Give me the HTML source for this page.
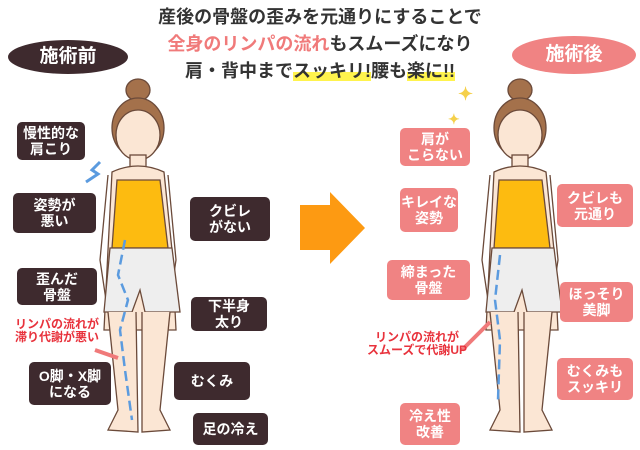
<!DOCTYPE html><html><head><meta charset="utf-8"><style>
body{margin:0;width:640px;height:450px;background:#fff;position:relative;overflow:hidden;font-family:"Liberation Sans","Noto Sans CJK JP",sans-serif;font-weight:bold}
.b{position:absolute;background:#3e2a2e;color:#fff;border-radius:5px;display:flex;align-items:center;justify-content:center;text-align:center;font-size:14px;line-height:16px}
.p{background:#f08383}
.t{position:absolute;left:0;width:640px;text-align:center;font-size:18px;color:#333;line-height:24px}
.r{position:absolute;color:#e8323c;font-size:12px;line-height:13px;text-align:center}
</style></head><body>
<div class="t" style="top:5px">産後の骨盤の歪みを元通りにすることで</div>
<div class="t" style="top:32px"><span style="color:#f07a7a">全身のリンパの流れ</span>もスムーズになり</div>
<div class="t" style="top:59px">肩・背中まで<span style="background:linear-gradient(transparent 55%,#fff34d 55%)">スッキリ!</span>腰も<span style="background:linear-gradient(transparent 55%,#fff34d 55%)">楽に!!</span></div>
<div class="b" style="left:8px;top:40px;width:120px;height:34px;border-radius:50%;font-size:19px">施術前</div>
<div class="b p" style="left:512px;top:36px;width:124px;height:38px;border-radius:50%;font-size:19px">施術後</div>
<svg width="640" height="450" style="position:absolute;left:0;top:0">
<g id="f" stroke="#6b4a3a" stroke-width="1.3">
<ellipse cx="138" cy="90" rx="12" ry="11" fill="#a4714b"/>
<ellipse cx="138" cy="128" rx="26" ry="30" fill="#a4714b"/>
<ellipse cx="138" cy="135" rx="22" ry="25" fill="#fbe6d4"/>
<rect x="130" y="155" width="16" height="16" fill="#fbe6d4"/>
<path d="M112 172 Q138 160 164 172 L172 250 L176 330 L104 330 L108 250Z" fill="#fbe6d4"/>
<path d="M108 175 L100 260 L106 300 M168 175 L176 260 L170 300" fill="none"/>
<path d="M117 180 L160 180 L168 248 L112 248Z" fill="#fdbb10"/>
<path d="M110 248 L172 248 L180 312 L145 312 L140 290 L132 312 L104 312Z" fill="#eeeeee"/>
<path d="M108 312 L118 410 L108 430 L138 432 L136 312 M170 312 L160 410 L170 430 L142 432 L142 312" fill="#fbe6d4"/>
</g>
<use href="#f" x="382" y="0"/>
<path d="M125 240 L118 275 L128 300 L120 330 L125 370 L132 420" stroke="#5b9bdf" stroke-width="2.5" stroke-dasharray="10 5" fill="none"/>
<path d="M500 255 L495 300 L500 340 L498 400" stroke="#5b9bdf" stroke-width="2.5" stroke-dasharray="10 5" fill="none"/>
<path d="M300 205 L330 205 L330 192 L365 228 L330 264 L330 250 L300 250Z" fill="#fd9a12"/>
<path d="M100 162 L92 170 L98 174 L86 182" stroke="#5b9bdf" stroke-width="3" fill="none"/>
<path d="M95 350 L118 358" stroke="#f07a7a" stroke-width="4"/>
<path d="M462 350 L490 322" stroke="#f07a7a" stroke-width="4"/>
<text x="458" y="100" font-size="18" fill="#f5d04a">✦</text><text x="448" y="124" font-size="14" fill="#f5d04a">✦</text>
</svg>
<div class="b" style="left:17px;top:122px;width:68px;height:38px">慢性的な<br>肩こり</div>
<div class="b" style="left:13px;top:193px;width:83px;height:40px">姿勢が<br>悪い</div>
<div class="b" style="left:190px;top:197px;width:80px;height:44px">クビレ<br>がない</div>
<div class="b" style="left:17px;top:268px;width:80px;height:37px">歪んだ<br>骨盤</div>
<div class="b" style="left:191px;top:297px;width:76px;height:34px">下半身<br>太り</div>
<div class="r" style="left:3px;top:318px;width:108px">リンパの流れが<br>滞り代謝が悪い</div>
<div class="b" style="left:29px;top:362px;width:82px;height:43px">O脚・X脚<br>になる</div>
<div class="b" style="left:174px;top:362px;width:76px;height:38px">むくみ</div>
<div class="b" style="left:193px;top:413px;width:75px;height:32px">足の冷え</div>
<div class="b p" style="left:400px;top:128px;width:70px;height:38px">肩が<br>こらない</div>
<div class="b p" style="left:400px;top:188px;width:58px;height:44px">キレイな<br>姿勢</div>
<div class="b p" style="left:557px;top:184px;width:76px;height:43px">クビレも<br>元通り</div>
<div class="b p" style="left:387px;top:260px;width:83px;height:40px">締まった<br>骨盤</div>
<div class="b p" style="left:560px;top:282px;width:73px;height:40px">ほっそり<br>美脚</div>
<div class="r" style="left:352px;top:331px;width:130px">リンパの流れが<br>スムーズで代謝UP</div>
<div class="b p" style="left:557px;top:358px;width:76px;height:42px">むくみも<br>スッキリ</div>
<div class="b p" style="left:400px;top:403px;width:60px;height:42px">冷え性<br>改善</div>
</body></html>
